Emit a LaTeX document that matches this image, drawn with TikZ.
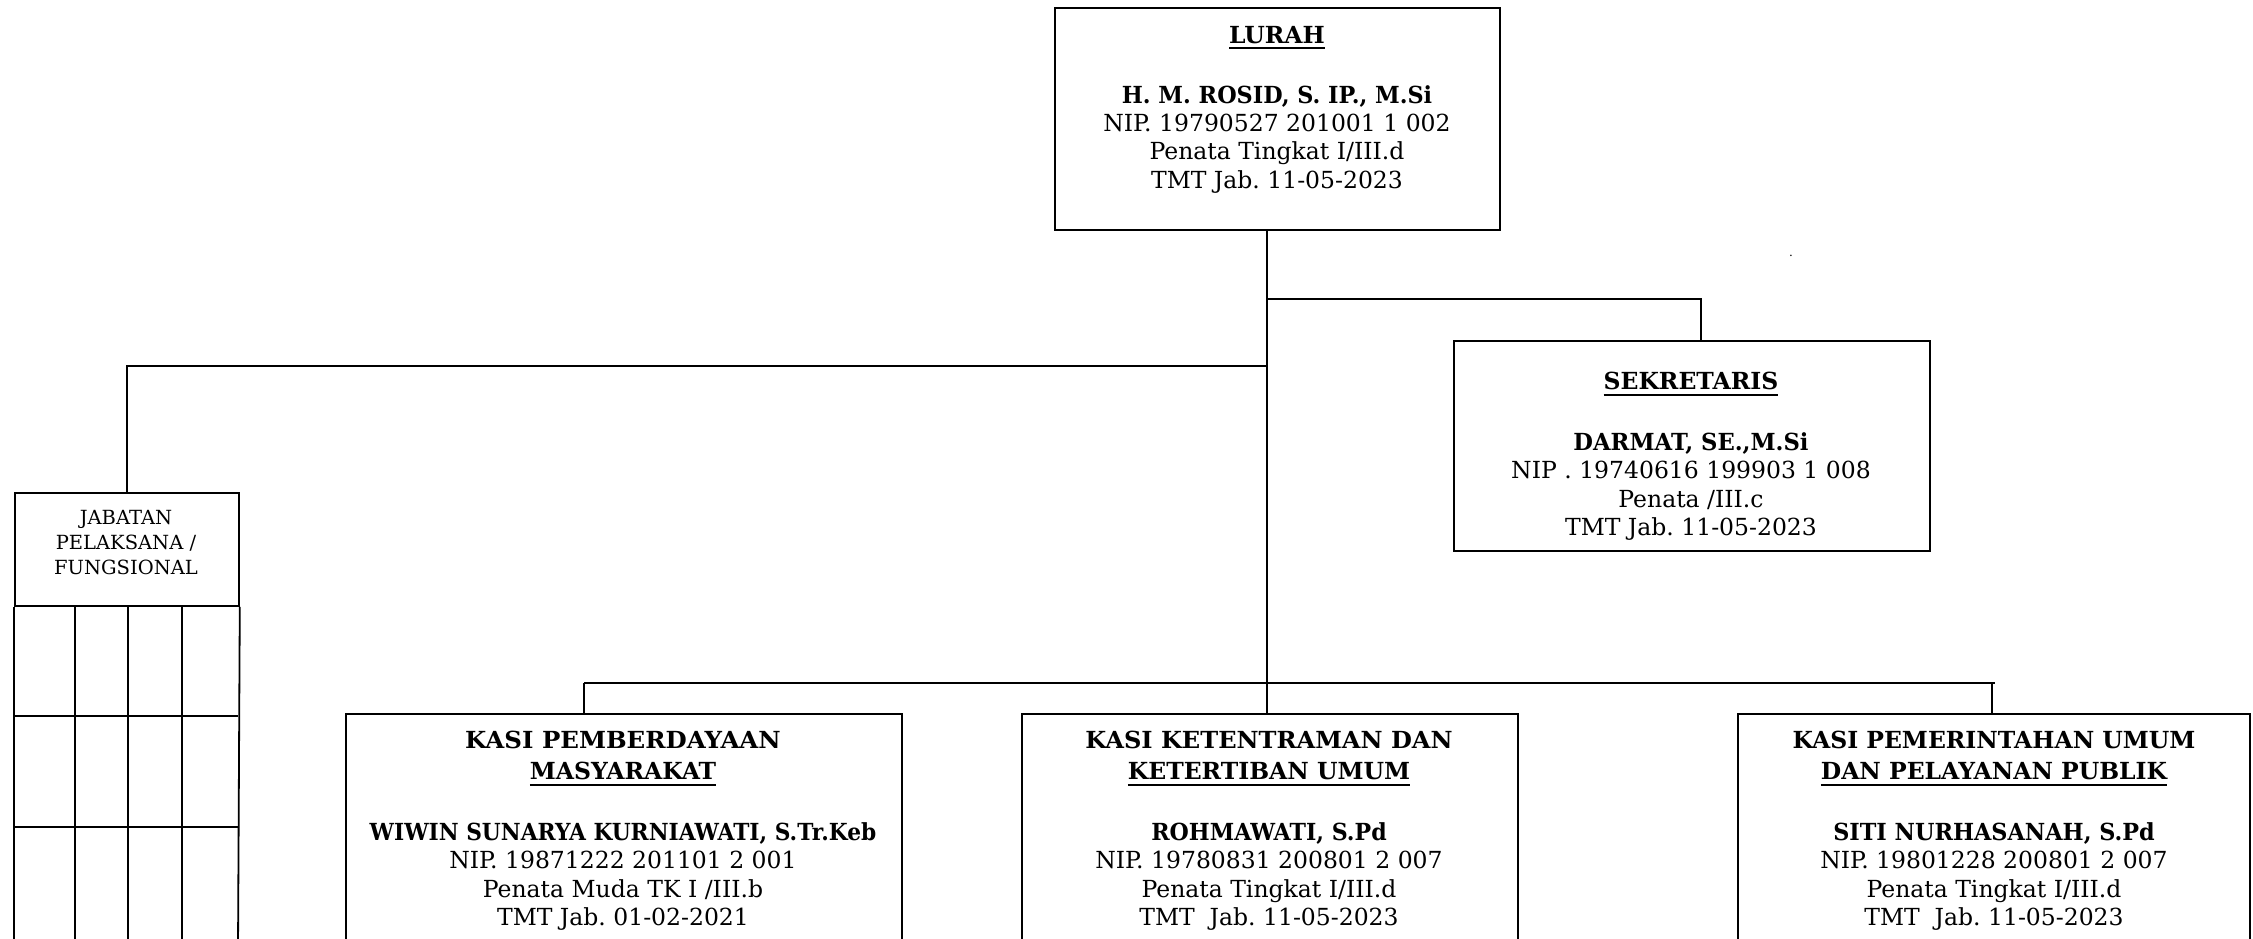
\documentclass[tikz,border=0pt]{standalone}
\usepackage{graphicx}
\usepackage{fontspec}
\setmainfont{DejaVu Serif}
\frenchspacing
\newcommand\regfont{\fontsize{23.5}{28.3}\selectfont\frenchspacing}
\newcommand\smallregfont{\fontsize{19.5}{25}\selectfont\frenchspacing}
\newcommand\myul[1]{\setbox0=\hbox{#1}\rlap{\raisebox{-6pt}{\rule{\wd0}{2pt}}}\box0}
\newcommand\nm[2]{\scalebox{#1}[1]{\textbf{#2}}}
\begin{document}
\begin{tikzpicture}[x=1pt,y=-1pt,
  box/.style={draw,line width=1.8pt,rectangle,inner sep=0pt,anchor=north west},
  conn/.style={line width=1.8pt},
  txt/.style={align=center,anchor=north,inner sep=0pt,font=\regfont},
  smalltxt/.style={align=center,anchor=north,inner sep=0pt,font=\smallregfont}]
\useasboundingbox (0,0) rectangle (2253,938);
% boxes
\node[box,minimum width=445pt,minimum height=222pt] (lurah) at (1054,7) {};
\node[box,minimum width=476pt,minimum height=210pt] (sek) at (1453,340) {};
\node[box,minimum width=224pt,minimum height=113pt] (jab) at (14,492) {};
\node[box,minimum width=556pt,minimum height=300pt] (kpm) at (345,713) {};
\node[box,minimum width=496pt,minimum height=300pt] (ktb) at (1021,713) {};
\node[box,minimum width=512pt,minimum height=300pt] (kpu) at (1737,713) {};
% grid below jabatan
\draw[conn] (jab.south west) -- (14,950);
\draw[conn] (jab.south east) -- (238,950);
\foreach \cx in {75,128,182} \draw[conn] (\cx,605) -- (\cx,950);
\foreach \ry in {716,827} \draw[conn] (14,\ry) -- (238,\ry);
% connectors
\coordinate (j1) at (1267,299);
\coordinate (j2) at (1267,366);
\coordinate (j3) at (1267,683);
\coordinate (s1) at (1701,299);
\coordinate (b1) at (584,683);
\coordinate (b3) at (1992,683);
\coordinate (b4) at (1995,683);
\draw[conn] (lurah.south -| j1) -- (j3 |- ktb.north);
\draw[conn] (j1) -- (s1) -- (s1 |- sek.north);
\draw[conn] (j2) -| (jab.north);
\draw[conn] (b1) -- (b4);
\draw[conn] (b1) -- (b1 |- kpm.north);
\draw[conn] (b3) -- (b3 |- kpu.north);
% texts
\node[txt] (lurahT) at (1277,26) {\textbf{\myul{LURAH}}\\[31.7pt]
  \nm{0.95}{H. M. ROSID, S. IP., M.Si}\\
  NIP. 19790527 201001 1 002\\
  Penata Tingkat I/III.d\\
  TMT Jab. 11-05-2023};
\node[txt] (sekT) at (1691,372) {\textbf{\myul{SEKRETARIS}}\\[32.7pt]
  \nm{0.965}{DARMAT, SE.,M.Si}\\
  NIP . 19740616 199903 1 008\\
  Penata /III.c\\
  TMT Jab. 11-05-2023};
\node[smalltxt] (jabT) at (126,510) {JABATAN\\ PELAKSANA /\\ FUNGSIONAL};
\node[txt] (kpmT) at (623,731) {\nm{1.04}{KASI PEMBERDAYAAN}\\[2.7pt]
  \textbf{\myul{MASYARAKAT}}\\[32.7pt]
  \nm{0.925}{WIWIN SUNARYA KURNIAWATI, S.Tr.Keb}\\
  NIP. 19871222 201101 2 001\\
  Penata Muda TK I /III.b\\
  TMT Jab. 01-02-2021};
\node[txt] (ktbT) at (1269,731) {\nm{1.025}{KASI KETENTRAMAN DAN}\\[2.7pt]
  \textbf{\myul{KETERTIBAN UMUM}}\\[32.7pt]
  \nm{0.94}{ROHMAWATI, S.Pd}\\
  NIP. 19780831 200801 2 007\\
  Penata Tingkat I/III.d\\
  TMT\ \ Jab. 11-05-2023};
\node[txt] (kpuT) at (1994,731) {\textbf{KASI PEMERINTAHAN UMUM}\\[2.7pt]
  \textbf{\myul{DAN PELAYANAN PUBLIK}}\\[32.7pt]
  \nm{0.95}{SITI NURHASANAH, S.Pd}\\
  NIP. 19801228 200801 2 007\\
  Penata Tingkat I/III.d\\
  TMT\ \ Jab. 11-05-2023};
\node[inner sep=0pt,anchor=base,font=\fontsize{12}{12}\selectfont] (dot) at (1791,256) {.};
\end{tikzpicture}
\end{document}
